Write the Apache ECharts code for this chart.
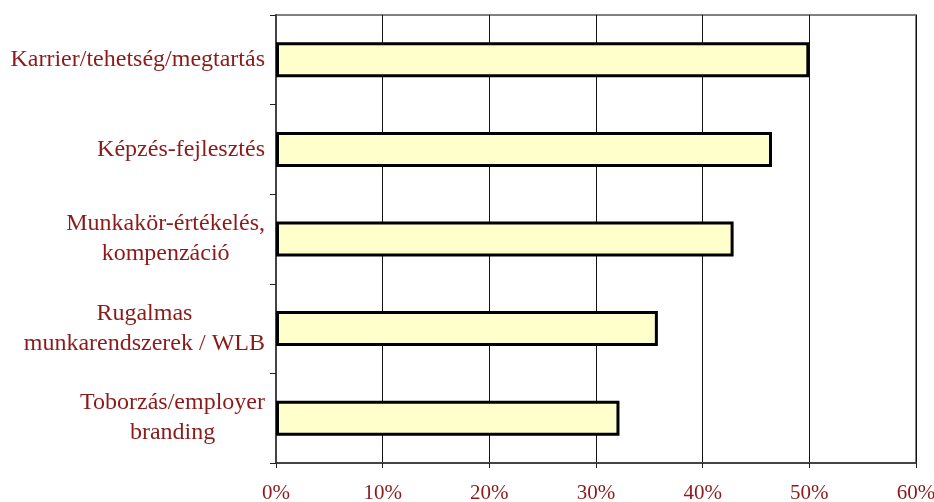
<!DOCTYPE html>
<html>
<head>
<meta charset="utf-8">
<script src="https://cdn.jsdelivr.net/npm/echarts@6/dist/echarts.min.js"></script>
<style>
  html, body { margin: 0; padding: 0; background: #fff; }
  #chart { width: 934px; height: 502px; }
</style>
</head>
<body>
<div id="chart"></div>
<script>
// Categories (top to bottom) and shares in percent
const categories = [
  'Karrier/tehetség/megtartás',
  'Képzés-fejlesztés',
  'Munkakör-értékelés,\nkompenzáció',
  'Rugalmas\nmunkarendszerek / WLB',
  'Toborzás/employer\nbranding'
];
const values = [50.0, 46.5, 42.9, 35.8, 32.2];
const xTicks = [0, 10, 20, 30, 40, 50, 60];

const textColor = '#8b1a1a';
const fontFamily = '"Liberation Serif", "DejaVu Serif", serif';

const chart = echarts.init(document.getElementById('chart'));
chart.setOption({
  animation: false,
  grid: {
    left: 276, right: 18, top: 15, bottom: 39,
    outerBoundsMode: 'none', containLabel: false,
    show: true, borderColor: '#808080', borderWidth: 2
  },
  xAxis: {
    type: 'value',
    min: xTicks[0],
    max: xTicks[xTicks.length - 1],
    interval: 10,
    axisLine: { show: true, lineStyle: { color: '#444', width: 2 } },
    axisTick: { show: true, length: 5, lineStyle: { color: '#222' } },
    splitLine: { show: true, lineStyle: { color: '#111', width: 1 } },
    axisLabel: {
      color: textColor, fontFamily: fontFamily, fontSize: 21, margin: 20,
      formatter: v => v + '%'
    }
  },
  yAxis: {
    type: 'category',
    inverse: true,
    data: categories,
    axisLine: { show: true, lineStyle: { color: '#444', width: 2 } },
    axisTick: { show: true, length: 6, lineStyle: { color: '#222' } },
    axisLabel: {
      margin: 11,
      align: 'right',
      formatter: v => v.split('\n').map(s => '{c|' + s + '}').join('\n'),
      rich: {
        c: { color: textColor, fontFamily: fontFamily, fontSize: 24, lineHeight: 30, align: 'center' }
      }
    }
  },
  series: [{
    type: 'bar',
    data: values,
    barWidth: 35,
    itemStyle: { color: '#ffffcc', borderColor: '#000', borderWidth: 3 }
  }]
});
</script>
</body>
</html>
